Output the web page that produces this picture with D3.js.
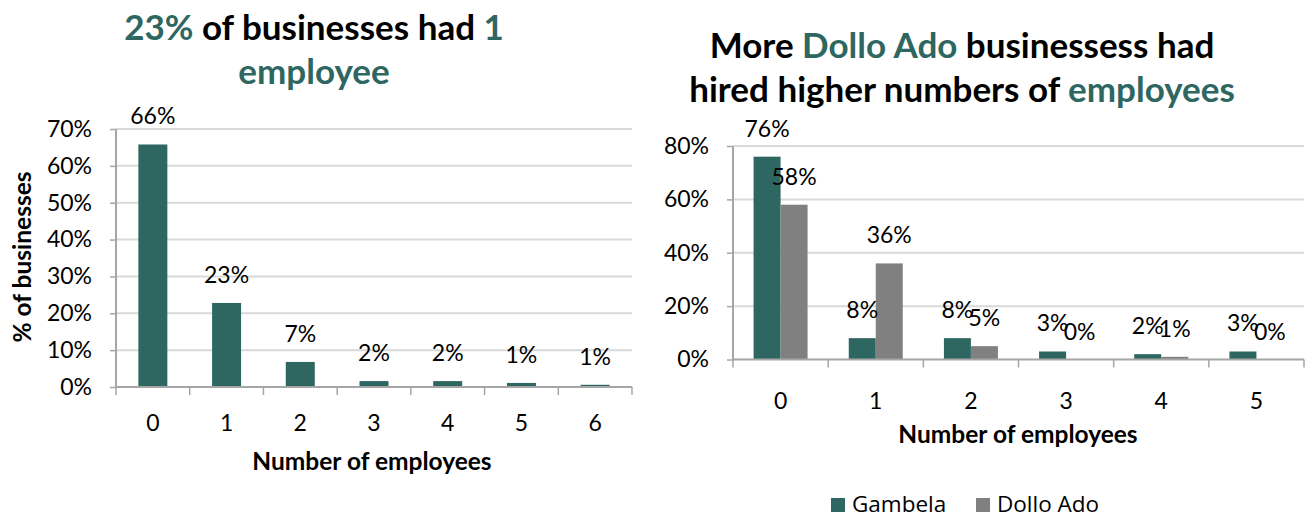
<!DOCTYPE html>
<html><head><meta charset="utf-8">
<script src="https://cdn.jsdelivr.net/npm/d3@7"></script>
<style>
body{margin:0;background:#fff;}
text{font-family:Lato,"Open Sans",sans-serif;}
</style>
</head><body>
<svg id="c" width="1312" height="518"></svg>
<script>
// ---- data ----
const leftCategories = ["0","1","2","3","4","5","6"];
const leftValues = [65.8, 22.8, 6.8, 1.6, 1.6, 1.1, 0.6];
const leftTicks = [0,10,20,30,40,50,60,70];

const rightCategories = ["0","1","2","3","4","5"];
const seriesNames = ["Gambela","Dollo Ado"];
const gambelaValues = [76, 8, 8, 3, 2, 3];
const dolloValues = [58, 36, 5, 0, 1, 0];
const rightTicks = [0,20,40,60,80];

const teal = "#2E6661", grey = "#808080";
const seriesColors = [teal, grey];
const gridColor = "#D9D9D9", axisColor = "#A6A6A6";
const pct = v => d3.format(".0f")(v) + "%";
const FS = 23;      // tick & data label font size
const TFS = 35;     // title font size
const AFS = 24.5;   // axis title font size

const svg = d3.select("#c");

function titleLines(g, lines, cx, y0, dy, size){
  lines.forEach((parts,i)=>{
    const t = g.append("text").attr("x",cx).attr("y",y0+i*dy)
      .attr("text-anchor","middle").attr("font-weight","bold").attr("font-size",size);
    parts.forEach(p=>t.append("tspan").text(p[0]).attr("fill",p[1]?teal:"#000"));
  });
}

// ---------- LEFT CHART ----------
{
  const x = d3.scaleBand().domain(leftCategories).range([116,632]);
  const y = d3.scaleLinear().domain([0,70]).range([387,129]);
  const g = svg.append("g");

  g.append("g").selectAll("line").data(leftTicks.slice(1)).join("line")
    .attr("x1",116).attr("x2",632).attr("y1",d=>y(d)).attr("y2",d=>y(d))
    .attr("stroke",gridColor).attr("stroke-width",2);

  const ya = g.append("g").attr("transform","translate(116,0)")
    .call(d3.axisLeft(y).tickValues(leftTicks).tickFormat(d=>d+"%").tickSize(6).tickPadding(18));
  ya.select(".domain").attr("stroke",axisColor).attr("stroke-width",2).attr("d","M0,129V387");
  ya.selectAll(".tick line").attr("stroke",axisColor).attr("stroke-width",1.5);
  ya.selectAll("text").attr("font-size",FS).attr("fill","#000").attr("font-family","Lato");

  g.selectAll("rect.bar").data(leftValues).join("rect").attr("class","bar")
    .attr("x",(d,i)=>x(leftCategories[i])+x.bandwidth()/2-14.5)
    .attr("width",29).attr("y",d=>y(d)).attr("height",d=>387-y(d)).attr("fill",teal);

  g.selectAll("text.lbl").data(leftValues).join("text").attr("class","lbl")
    .attr("x",(d,i)=>x(leftCategories[i])+x.bandwidth()/2).attr("y",d=>y(d)-20)
    .attr("text-anchor","middle").attr("font-size",FS).text(pct);

  const xa = g.append("g").attr("transform","translate(0,387)")
    .call(d3.axisBottom(x).tickSize(0).tickPadding(28));
  xa.select(".domain").remove();
  xa.selectAll("text").attr("font-size",FS).attr("fill","#000").attr("font-family","Lato");
  g.append("line").attr("x1",116).attr("x2",632).attr("y1",387).attr("y2",387).attr("stroke",axisColor).attr("stroke-width",2);
  const bounds = leftCategories.map(c=>x(c)).concat([632]);
  g.selectAll("line.xt").data(bounds).join("line").attr("class","xt")
    .attr("x1",d=>d).attr("x2",d=>d).attr("y1",387).attr("y2",395).attr("stroke",axisColor).attr("stroke-width",1.5);

  g.append("text").attr("x",372).attr("y",470).attr("text-anchor","middle")
    .attr("font-weight","bold").attr("font-size",AFS).text("Number of employees");
  g.append("text").attr("transform","translate(31,257) rotate(-90)").attr("text-anchor","middle")
    .attr("font-weight","bold").attr("font-size",AFS).text("% of businesses");

  titleLines(g, [[["23%",1],[" of businesses had ",0],["1",1]],[["employee",1]]], 314, 40, 44, TFS);
}

// ---------- RIGHT CHART ----------
{
  const x0 = d3.scaleBand().domain(rightCategories).range([733,1304]);
  const x1 = d3.scaleBand().domain(seriesNames).range([0,54]);
  const off = (x0.bandwidth()-54)/2;
  const y = d3.scaleLinear().domain([0,80]).range([359.5,146]);
  const g = svg.append("g");

  g.append("g").selectAll("line").data(rightTicks.slice(1)).join("line")
    .attr("x1",733).attr("x2",1304).attr("y1",d=>y(d)).attr("y2",d=>y(d))
    .attr("stroke",gridColor).attr("stroke-width",2);

  const ya = g.append("g").attr("transform","translate(733,0)")
    .call(d3.axisLeft(y).tickValues(rightTicks).tickFormat(d=>d+"%").tickSize(6).tickPadding(18));
  ya.select(".domain").attr("stroke",axisColor).attr("stroke-width",2).attr("d","M0,146V359.5");
  ya.selectAll(".tick line").attr("stroke",axisColor).attr("stroke-width",1.5);
  ya.selectAll("text").attr("font-size",FS).attr("fill","#000").attr("font-family","Lato");

  const series = [gambelaValues, dolloValues];
  series.forEach((vals,si)=>{
    const name = seriesNames[si];
    g.selectAll("rect.s"+si).data(vals).join("rect").attr("class","s"+si)
      .attr("x",(d,i)=>x0(rightCategories[i])+off+x1(name))
      .attr("width",x1.bandwidth()).attr("y",d=>y(d)).attr("height",d=>359.5-y(d))
      .attr("fill",seriesColors[si]);
  });
  series.forEach((vals,si)=>{
    const name = seriesNames[si];
    g.selectAll("text.l"+si).data(vals).join("text").attr("class","l"+si)
      .attr("x",(d,i)=>x0(rightCategories[i])+off+x1(name)+x1.bandwidth()/2)
      .attr("y",d=>y(d)-20).attr("text-anchor","middle").attr("font-size",FS).text(pct);
  });

  const xa = g.append("g").attr("transform","translate(0,359.5)")
    .call(d3.axisBottom(x0).tickSize(0).tickPadding(33));
  xa.select(".domain").remove();
  xa.selectAll("text").attr("font-size",FS).attr("fill","#000").attr("font-family","Lato");
  g.append("line").attr("x1",733).attr("x2",1304).attr("y1",359.5).attr("y2",359.5).attr("stroke",axisColor).attr("stroke-width",2);
  const bounds = rightCategories.map(c=>x0(c)).concat([1304]);
  g.selectAll("line.xt").data(bounds).join("line").attr("class","xt")
    .attr("x1",d=>d).attr("x2",d=>d).attr("y1",359.5).attr("y2",367.5).attr("stroke",axisColor).attr("stroke-width",1.5);

  g.append("text").attr("x",1018).attr("y",443).attr("text-anchor","middle")
    .attr("font-weight","bold").attr("font-size",AFS).text("Number of employees");

  titleLines(g, [[["More ",0],["Dollo Ado",1],[" businessess had",0]],[["hired higher numbers of ",0],["employees",1]]], 962, 58, 44, TFS);

  // legend
  const lg = g.append("g");
  const lx = [831, 976];
  seriesNames.forEach((n,i)=>{
    lg.append("rect").attr("x",lx[i]).attr("y",498).attr("width",14).attr("height",14).attr("fill",seriesColors[i]);
    lg.append("text").attr("x",lx[i]+21).attr("y",512).style("font-size","22.5px")
      .style("font-family","'Open Sans', sans-serif").text(n);
  });
}
</script>
</body></html>
